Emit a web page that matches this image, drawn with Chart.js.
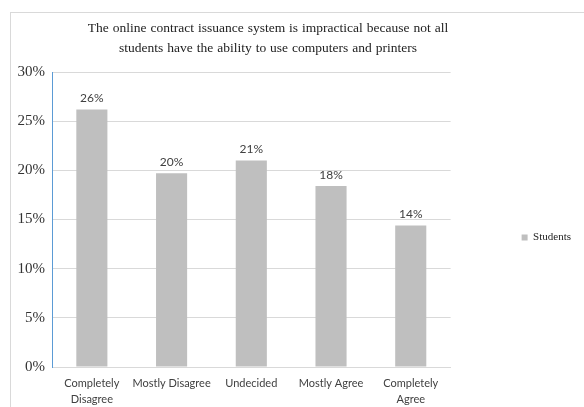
<!DOCTYPE html>
<html>
<head>
<meta charset="utf-8">
<script src="https://cdn.jsdelivr.net/npm/chart.js@4/dist/chart.umd.min.js"></script>
<style>
  html, body { margin: 0; padding: 0; background: #fff; }
  #wrap { width: 584px; height: 407px; position: relative; }
</style>
</head>
<body>
<div id="wrap"><canvas id="c"></canvas></div>
<script>
// Survey responses
const categories = [["Completely", "Disagree"], "Mostly Disagree", "Undecided", "Mostly Agree", ["Completely", "Agree"]];
const studentShares = [26.2, 19.7, 21.0, 18.4, 14.4];
const seriesName = "Students";
const titleLines = [
  "The online contract issuance system is impractical because not all",
  "students have the ability to use computers and printers"
];
const yTicks = [0, 5, 10, 15, 20, 25, 30];

const SERIF = "'Liberation Serif', 'Times New Roman', serif";
const SANS = "Lato, 'Open Sans', sans-serif";

// Frame, title and value labels
const decorations = {
  id: "decorations",
  afterLayout(chart) {
    // lift the legend slightly so it sits level with the middle of the plot
    if (chart.legend) {
      chart.legend.top -= 6;
      chart.legend.bottom -= 6;
    }
  },
  beforeDraw(chart) {
    const ctx = chart.ctx;
    ctx.save();
    ctx.fillStyle = "#ffffff";
    ctx.fillRect(0, 0, chart.width, chart.height);
    ctx.strokeStyle = "#d9d9d9";
    ctx.lineWidth = 1;
    ctx.strokeRect(10.5, 12.5, 700, 500);
    ctx.restore();
  },
  afterDraw(chart) {
    const ctx = chart.ctx;
    ctx.save();
    ctx.fillStyle = "#222222";
    ctx.font = "13.5px " + SERIF;
    ctx.wordSpacing = "0.6px";
    ctx.textAlign = "center";
    ctx.textBaseline = "middle";
    titleLines.forEach((t, i) => ctx.fillText(t, 268, 28 + i * 20));
    ctx.wordSpacing = "0px";

    ctx.fillStyle = "#404040";
    ctx.font = "12px " + SANS;
    ctx.textBaseline = "bottom";
    const meta = chart.getDatasetMeta(0);
    meta.data.forEach((bar, i) => {
      ctx.fillText(Math.round(studentShares[i]) + "%", bar.x, bar.y - 5);
    });
    ctx.restore();
  }
};

new Chart(document.getElementById("c"), {
  type: "bar",
  data: {
    labels: categories,
    datasets: [{
      label: seriesName,
      data: studentShares,
      backgroundColor: "#bfbfbf",
      borderWidth: 0,
      categoryPercentage: 1,
      barPercentage: 0.39
    }]
  },
  options: {
    responsive: true,
    maintainAspectRatio: false,
    animation: false,
    devicePixelRatio: 1,
    layout: { padding: { top: 72, right: 3, bottom: -8, left: 0 } },
    plugins: {
      title: { display: false },
      tooltip: { enabled: false },
      legend: {
        position: "right",
        labels: {
          boxWidth: 6,
          boxHeight: 6,
          padding: 71,
          color: "#222222",
          font: { family: SERIF, size: 11 }
        }
      }
    },
    scales: {
      x: {
        grid: { display: false, drawTicks: false },
        border: { color: "#d9d9d9" },
        ticks: {
          color: "#404040",
          padding: 8,
          maxRotation: 0,
          autoSkip: false,
          font: { family: SANS, size: 11, lineHeight: 1.45 }
        }
      },
      y: {
        min: 0,
        max: 30,
        afterFit(scale) { scale.width = 52; },
        afterBuildTicks(scale) { scale.ticks = yTicks.map(v => ({ value: v })); },
        grid: { color: "#d9d9d9", drawTicks: false },
        border: { color: "#5b9bd5" },
        ticks: {
          color: "#333333",
          padding: 7,
          font: { family: SERIF, size: 15 },
          callback: v => v + "%"
        }
      }
    }
  },
  plugins: [decorations]
});
</script>
</body>
</html>
